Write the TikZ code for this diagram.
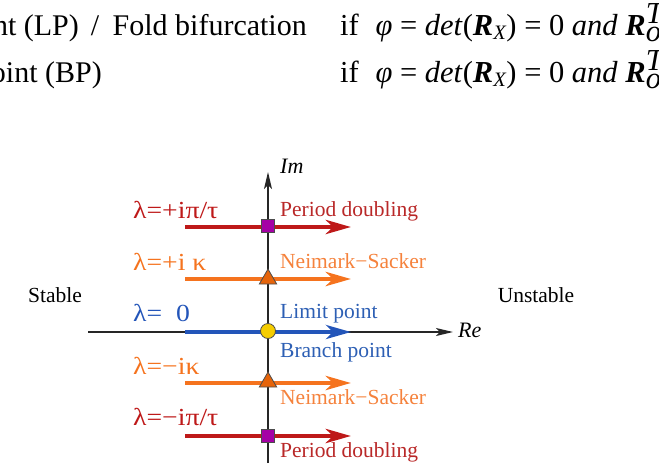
\documentclass[tikz,border=0pt]{standalone}
\usepackage{fontspec}
\usepackage{graphicx}
\setmainfont{Liberation Serif}
\usetikzlibrary{arrows.meta,shapes.geometric}
\definecolor{pdred}{RGB}{190,25,25}
\definecolor{pdtext}{RGB}{185,40,40}
\definecolor{nsorange}{RGB}{245,115,30}
\definecolor{nstext}{RGB}{245,130,60}
\definecolor{lpblue}{RGB}{35,85,185}
\definecolor{lptext}{RGB}{45,95,180}
\definecolor{sqfill}{RGB}{165,0,165}
\definecolor{trifill}{RGB}{230,100,10}
\definecolor{cirfill}{RGB}{245,205,0}
\newcommand{\condtext}{if\hspace{0.55em}\textit{φ} = \textit{det}(\textbf{\textit{R}}\raisebox{-0.3ex}{\fontsize{20.5}{23}\selectfont\textit{X}}) = 0 \textit{and} \(\textbf{\textit{R}}^{\textit{T}}_{\textit{o}}\)}
\newcommand{\gk}[1]{\scalebox{1.13}[1]{#1}}
\begin{document}
\begin{tikzpicture}[x=1pt,y=-1pt,
  axis/.style={draw=black!85,line width=1.3pt,-{Stealth[length=17pt,width=8pt,inset=4pt]}},
  eigarrow/.style={line width=4.5pt,-{Stealth[length=25pt,width=14pt,inset=7pt]}},
  lab/.style={font=\fontsize{21.5}{25}\selectfont,inner sep=0pt,anchor=base west},
  glab/.style={font=\fontsize{24.5}{28}\selectfont,inner sep=0pt,anchor=base west},
  toptext/.style={font=\fontsize{30}{34}\selectfont,inner sep=0pt},
  condstyle/.style={font=\fontsize{30.5}{35}\selectfont,inner sep=0pt,anchor=base west},
  sqmark/.style={rectangle,draw=black!70,fill=sqfill,minimum size=13pt,inner sep=0pt,line width=0.8pt},
  trimark/.style={regular polygon,regular polygon sides=3,draw=black!70,fill=trifill,minimum size=20pt,inner sep=0pt,line width=0.8pt},
  cirmark/.style={circle,draw=black!70,fill=cirfill,minimum size=15pt,inner sep=0pt,line width=0.8pt}
]
\useasboundingbox (0,0) rectangle (659,469);
\clip (0,0) rectangle (659,469);
% top text (cropped)
\node[toptext,anchor=base east] (t1) at (307,35) {Limit point (LP)\hspace{0.4em}/\hspace{0.45em}Fold bifurcation};
\node[condstyle] (c1) at (340,35) {\condtext};
\node[toptext,anchor=base east] (t2) at (102,82) {Branch point (BP)};
\node[condstyle] (c2) at (340,82) {\condtext};
% axes
\coordinate (xl) at (88,332);
\coordinate (xr) at (453,332);
\coordinate (yb) at (268,463);
\coordinate (yt) at (268,172);
\draw[axis] (xl) -- (xr);
\draw[axis] (yb) -- (yt);
\node[font=\fontsize{22}{26}\selectfont\itshape,inner sep=0pt,anchor=base west] (im) at (280,173) {Im};
\node[font=\fontsize{22}{26}\selectfont\itshape,inner sep=0pt,anchor=base west] (re) at (458,337) {Re};
\node[font=\fontsize{21.5}{25}\selectfont,inner sep=0pt] (stable) at (55,295) {Stable};
\node[font=\fontsize{21.5}{25}\selectfont,inner sep=0pt] (unstable) at (536,295) {Unstable};
% eigenvalue arrows
\coordinate (a1l) at (185,227); \coordinate (a1r) at (351,227);
\coordinate (a2l) at (185,279); \coordinate (a2r) at (351,279);
\coordinate (a3l) at (185,332); \coordinate (a3r) at (351,332);
\coordinate (a4l) at (185,383); \coordinate (a4r) at (351,383);
\coordinate (a5l) at (185,436); \coordinate (a5r) at (351,436);
\draw[eigarrow,pdred] (a1l) -- (a1r);
\draw[eigarrow,nsorange] (a2l) -- (a2r);
\draw[eigarrow,lpblue,line width=4pt] (a3l) -- (a3r);
\draw[eigarrow,nsorange] (a4l) -- (a4r);
\draw[eigarrow,pdred] (a5l) -- (a5r);
% markers
\node[sqmark] (m1) at (268,226) {};
\node[trimark] (m2) at (268,279) {};
\node[cirmark] (m3) at (268,331) {};
\node[trimark] (m4) at (268,382) {};
\node[sqmark] (m5) at (268,436) {};
% eigenvalue labels
\node[glab,text=pdred] (l1) at (133,218) {\gk{λ=+iπ/τ}};
\node[glab,text=nsorange] (l2) at (133,270) {\gk{λ=+i κ}};
\node[glab,text=lpblue] (l3) at (133,321) {\gk{λ=\ \ 0}};
\node[glab,text=nsorange] (l4) at (133,374) {\gk{λ=−iκ}};
\node[glab,text=pdred] (l5) at (133,425) {\gk{λ=−iπ/τ}};
% bifurcation labels
\node[lab,text=pdtext] (b1) at (280,216) {Period doubling};
\node[lab,text=nstext] (b2) at (280,268) {Neimark−Sacker};
\node[lab,text=lptext] (b3) at (280,318) {Limit point};
\node[lab,text=lptext] (b4) at (280,357) {Branch point};
\node[lab,text=nstext] (b5) at (280,404) {Neimark−Sacker};
\node[lab,text=pdtext] (b6) at (280,457) {Period doubling};
\end{tikzpicture}
\end{document}
